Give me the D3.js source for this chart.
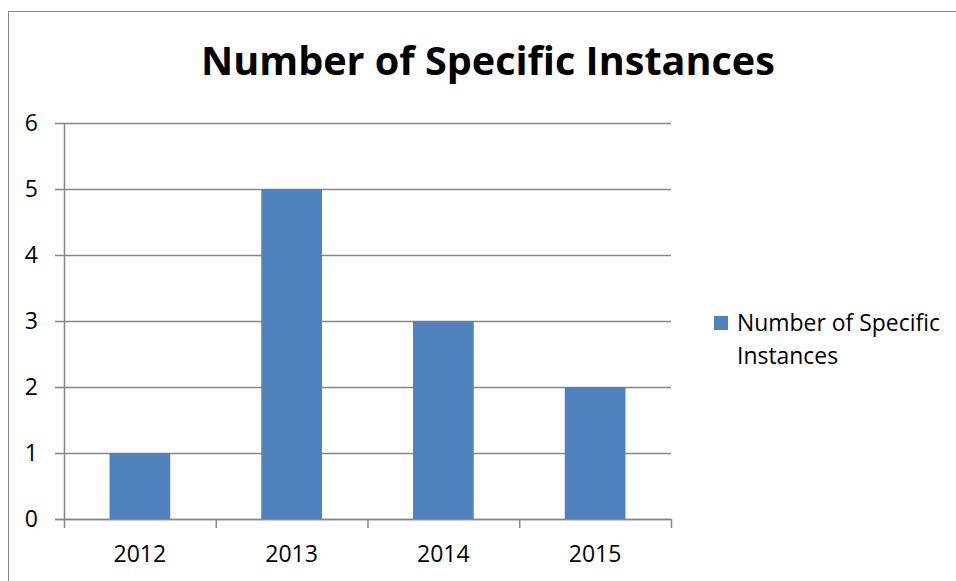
<!DOCTYPE html>
<html><head><meta charset="utf-8">
<script src="https://cdn.jsdelivr.net/npm/d3@7"></script>
<style>body{margin:0;background:#fff;} text{font-family:"Open Sans", Lato, sans-serif;}</style>
</head><body>
<svg id="c" width="956" height="581"></svg>
<script>
const categories = ["2012","2013","2014","2015"];
const values = [1,5,3,2];
const yTicks = [0,1,2,3,4,5,6];
const title = "Number of Specific Instances";
const seriesName = ["Number of Specific","Instances"];

(function(){
const svg = d3.select("#c");
const grey = "#868686";
svg.append("rect").attr("x",8.5).attr("y",11.5).attr("width",1000).attr("height",600)
  .attr("fill","#fff").attr("stroke",grey).attr("stroke-width",1);

const pl=64, pr=671, pt=123, pb=519;
const x = d3.scaleBand().domain(categories).range([pl,pr]).paddingInner(0.6).paddingOuter(0.3);
const xb = d3.scaleBand().domain(categories).range([pl,pr]);
const y = d3.scaleLinear().domain([0,6]).range([pb,pt]);

svg.append("g").selectAll("line").data(yTicks).join("line")
  .attr("x1",pl-9).attr("x2",pr).attr("y1",d=>y(d)+0.5).attr("y2",d=>y(d)+0.5)
  .attr("stroke",grey).attr("stroke-width",1.5);
svg.append("line").attr("x1",pl+0.5).attr("x2",pl+0.5).attr("y1",pt).attr("y2",pb).attr("stroke",grey).attr("stroke-width",1.5);
const xtv = categories.map(c=>xb(c)).concat([pr]);
svg.append("g").selectAll("line").data(xtv).join("line")
  .attr("x1",d=>d+0.5).attr("x2",d=>d+0.5).attr("y1",pb).attr("y2",pb+9)
  .attr("stroke",grey).attr("stroke-width",1.5);

svg.append("g").selectAll("rect").data(values).join("rect")
  .attr("x",(d,i)=>x(categories[i])).attr("width",x.bandwidth())
  .attr("y",d=>y(d)).attr("height",d=>pb-y(d)).attr("fill","#4F81BD");
svg.append("line").attr("x1",pl-9).attr("x2",pr).attr("y1",pb+0.5).attr("y2",pb+0.5).attr("stroke",grey).attr("stroke-width",1.5);

svg.append("g").selectAll("text").data(yTicks).join("text")
  .attr("x",38).attr("y",d=>y(d)+8).attr("text-anchor","end").attr("font-size",23).attr("fill","#000").text(d=>d);
svg.append("g").selectAll("text").data(categories).join("text")
  .attr("x",d=>xb(d)+xb.bandwidth()/2).attr("y",562).attr("text-anchor","middle").attr("font-size",23).attr("fill","#000").text(d=>d);

const t = svg.append("text").attr("x",488).attr("y",75).attr("text-anchor","middle").attr("font-size",38).attr("font-weight","bold").attr("fill","#000").text(title);
const tw = t.node().getComputedTextLength();
t.attr("font-size",38*574/tw);

svg.append("rect").attr("x",714).attr("y",316).attr("width",14).attr("height",14).attr("fill","#4F81BD");
const lg = svg.append("g").selectAll("text").data(seriesName).join("text")
  .attr("x",737).attr("y",(d,i)=>331+i*33).attr("font-size",22).attr("fill","#000").text(d=>d);
const lw = lg.nodes()[0].getComputedTextLength();
lg.attr("font-size",22*203/lw);
})();
</script>
</body></html>
